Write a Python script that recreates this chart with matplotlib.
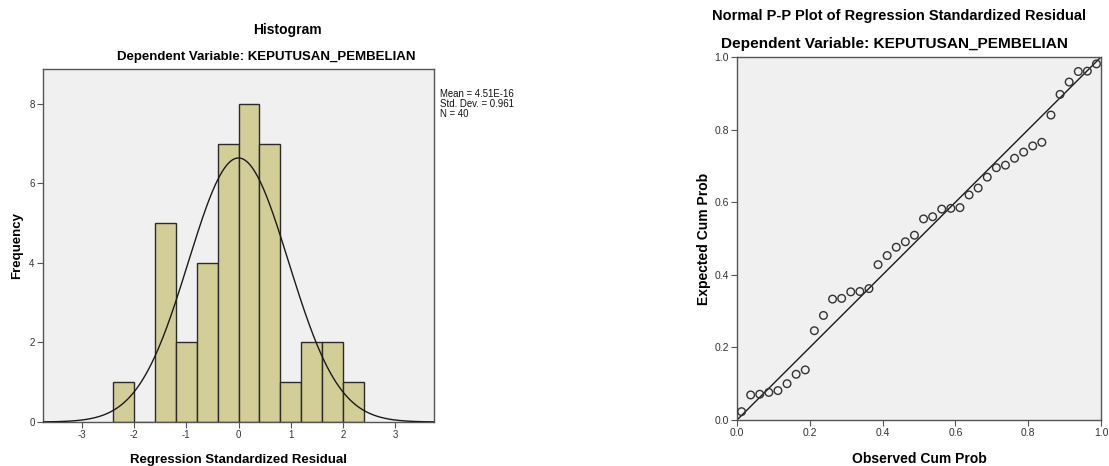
import numpy as np
import matplotlib
matplotlib.use("Agg")
import matplotlib.pyplot as plt

plt.rcParams['font.family'] = ['Liberation Sans', 'DejaVu Sans']
plt.rcParams['axes.unicode_minus'] = False

# histogram of standardized residuals
bin_edges = [-2.4, -2.0, -1.6, -1.2, -0.8, -0.4, 0.0, 0.4, 0.8, 1.2, 1.6, 2.0, 2.4]
counts = [1, 0, 5, 2, 4, 7, 8, 7, 1, 2, 2, 1]
resid_mean = 4.51e-16
resid_sd = 0.961
n_obs = 40

# normal P-P plot points
observed_cum = [0.0125, 0.0375, 0.0625, 0.0875, 0.1125, 0.1375, 0.1625, 0.1875,
                0.2125, 0.2375, 0.2625, 0.2875, 0.3125, 0.3375, 0.3625, 0.3875,
                0.4125, 0.4375, 0.4625, 0.4875, 0.5125, 0.5375, 0.5625, 0.5875,
                0.6125, 0.6375, 0.6625, 0.6875, 0.7125, 0.7375, 0.7625, 0.7875,
                0.8125, 0.8375, 0.8625, 0.8875, 0.9125, 0.9375, 0.9625, 0.9875]
expected_cum = [0.023, 0.069, 0.071, 0.076, 0.081, 0.100, 0.126, 0.138,
                0.246, 0.288, 0.333, 0.335, 0.353, 0.354, 0.362, 0.428,
                0.453, 0.476, 0.491, 0.509, 0.554, 0.560, 0.581, 0.583,
                0.585, 0.620, 0.639, 0.669, 0.695, 0.702, 0.721, 0.738,
                0.755, 0.765, 0.840, 0.897, 0.931, 0.960, 0.961, 0.981]

W, H = 1109, 466
fig = plt.figure(figsize=(W / 100, H / 100), dpi=100)
fig.patch.set_facecolor('white')


def px_axes(left, top, right, bottom):
    return fig.add_axes([left / W, 1 - bottom / H, (right - left) / W, (bottom - top) / H])


def style(ax, size):
    ax.set_facecolor('#F0F0F0')
    for s in ax.spines.values():
        s.set_color('#555555')
        s.set_linewidth(1.0)
    ax.tick_params(direction='out', length=4, width=0.8, color='#555555',
                   labelsize=size, labelcolor='#333333', pad=2)


# ---- Histogram ----
ax1 = px_axes(43, 69, 434, 422)
style(ax1, 7)
widths = np.diff(bin_edges)
ax1.bar(bin_edges[:-1], counts, width=widths, align='edge', color='#D3CE97',
        edgecolor='#2b2b2b', linewidth=1.0, zorder=2)
bw = widths[0]
xs = np.linspace(-3.75, 3.75, 400)
ys = n_obs * bw * np.exp(-0.5 * ((xs - resid_mean) / resid_sd) ** 2) / (resid_sd * np.sqrt(2 * np.pi))
ax1.plot(xs, ys, color='#1a1a1a', linewidth=1.0, zorder=3)
ax1.set_xlim(-3.75, 3.75)
ax1.set_ylim(0, 8.88)
ax1.set_xticks([-3, -2, -1, 0, 1, 2, 3])
ax1.set_yticks([0, 2, 4, 6, 8])
ax1.set_xlabel('Regression Standardized Residual', fontsize=9.5, fontweight='bold', labelpad=10)
ax1.set_ylabel('Frequency', fontsize=9.5, fontweight='bold', labelpad=4)

fig.text(287 / W, 1 - 30 / H, 'Histogram', ha='center', va='center', fontsize=10, fontweight='bold')
fig.text(266 / W, 1 - 57 / H, 'Dependent Variable: KEPUTUSAN_PEMBELIAN', ha='center', va='center',
         fontsize=9.5, fontweight='bold')
fig.text(440 / W, 1 - 89 / H,
         f'Mean = 4.51E-16\nStd. Dev. = {resid_sd}\nN = {n_obs}',
         ha='left', va='top', fontsize=6.9, linespacing=1.0, color='#111111')

# ---- Normal P-P plot ----
ax2 = px_axes(737, 57, 1101, 420)
style(ax2, 7.5)
ax2.plot([0, 1], [0, 1], color='#1a1a1a', linewidth=1.0, zorder=2)
ax2.scatter(observed_cum, expected_cum, s=30, facecolors='none', edgecolors='#333333',
            linewidths=1.0, zorder=3, clip_on=False)
ax2.set_xlim(0, 1)
ax2.set_ylim(0, 1)
ticks = [0.0, 0.2, 0.4, 0.6, 0.8, 1.0]
ax2.set_xticks(ticks)
ax2.set_yticks(ticks)
ax2.set_xticklabels([f'{t:.1f}' for t in ticks])
ax2.set_yticklabels([f'{t:.1f}' for t in ticks])
ax2.set_xlabel('Observed Cum Prob', fontsize=10, fontweight='bold', labelpad=10)
ax2.set_ylabel('Expected Cum Prob', fontsize=10, fontweight='bold', labelpad=2)

fig.text(899 / W, 1 - 16 / H, 'Normal P-P Plot of Regression Standardized Residual',
         ha='center', va='center', fontsize=10.5, fontweight='bold')
fig.text(894 / W, 1 - 44 / H, 'Dependent Variable: KEPUTUSAN_PEMBELIAN',
         ha='center', va='center', fontsize=11.1, fontweight='bold')

fig.savefig('out.png', dpi=100, facecolor='white')
